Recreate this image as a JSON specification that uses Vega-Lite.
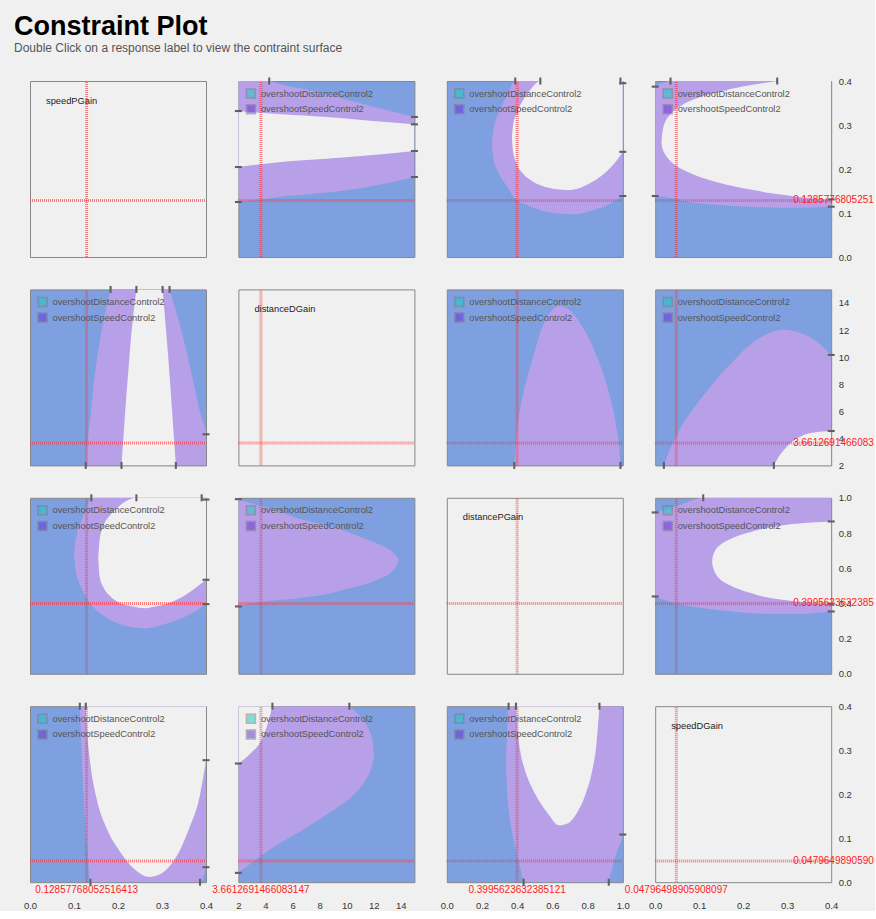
{
"$schema":"https://vega.github.io/schema/vega-lite/v6.json",
"background":"#f0f0f0",
"padding":{"left":14,"top":12,"right":0,"bottom":0},
"title":{"text":"Constraint Plot","subtitle":"Double Click on a response label to view the contraint surface","anchor":"start","frame":"group","dx":-16,"offset":21,"fontSize":27,"fontWeight":"bold","font":"Liberation Sans","color":"#000000","subtitleFont":"Liberation Sans","subtitleFontSize":12,"subtitleColor":"#555555","subtitlePadding":2},
"columns":4,
"spacing":{"row":32.4,"column":32.4},
"bounds":"flush",
"resolve":{"scale":{"color":"independent"},"legend":{"color":"independent"}},
"config":{
 "font":"Liberation Sans",
 "view":{"stroke":"#888888","strokeWidth":1},
 "axis":{"domain":false,"ticks":false,"grid":false,"labelFontSize":9.5,"labelColor":"#333333","labelFlush":false,"labelOverlap":false,"labelFont":"Liberation Sans"},
 "axisX":{"labelPadding":18},
 "axisY":{"labelPadding":7},
 "legend":{"padding":0,"offset":6.5,"rowPadding":0.7,"symbolType":"square","symbolSize":81,"labelFontSize":9.3,"labelColor":"#555555","labelOffset":4.5,"labelFont":"Liberation Sans"}
},
"concat":[
{"width":176,"height":176,
 "encoding":{"x":{"field":"x","type":"quantitative","scale":{"domain":[0,0.4],"nice":false,"zero":false},"axis":null},"y":{"field":"y","type":"quantitative","scale":{"domain":[0,0.4],"nice":false,"zero":false},"axis":null}},
 "layer":[
  {"data":{"values":[{"x":0.12857768052516413,"x2":0.12857768052516413,"y":0,"y2":0.4},{"x":0,"x2":0.4,"y":0.12857768052516413,"y2":0.12857768052516413}]},"mark":{"type":"rule","color":"#ff3030","opacity":0.6,"strokeWidth":3,"strokeDash":[1,1]},"encoding":{"x2":{"field":"x2"},"y2":{"field":"y2"}}},
  {"data":{"values":[{"x":0,"y":0.4,"t":"speedPGain"}]},"mark":{"type":"text","align":"left","baseline":"middle","dx":16,"dy":19.5,"fontSize":9.3,"color":"#222222"},"encoding":{"text":{"field":"t","type":"nominal"}}}
 ]},
{"width":176,"height":176,"view":{"fill":"#7fa0e0"},
 "encoding":{"x":{"field":"x","type":"quantitative","scale":{"domain":[2,15],"nice":false,"zero":false},"axis":null},"y":{"field":"y","type":"quantitative","scale":{"domain":[0,0.4],"nice":false,"zero":false},"axis":null}},
 "layer":[
  {"data":{"values":[{"x":2,"y":0.125,"y2":0.4},{"x":4.277,"y":0.1338,"y2":0.4},{"x":5.134,"y":0.1371,"y2":0.3918},{"x":7.58,"y":0.1438,"y2":0.3773},{"x":11.25,"y":0.1576,"y2":0.347},{"x":15,"y":0.1818,"y2":0.3182}]},"mark":{"type":"area","orient":"vertical","color":"#b8a0e8","opacity":1,"interpolate":"monotone","clip":true},"encoding":{"y2":{"field":"y2"}}},
  {"data":{"values":[{"x":2,"y":0.2045,"y2":0.3318},{"x":5.134,"y":0.2159,"y2":0.3245},{"x":8.49,"y":0.2235,"y2":0.3182},{"x":11.74,"y":0.2311,"y2":0.3098},{"x":15,"y":0.2409,"y2":0.3015}]},"mark":{"type":"area","orient":"vertical","color":"#f0f0f0","opacity":1,"interpolate":"monotone","clip":true},"encoding":{"y2":{"field":"y2"}}},
  {"data":{"values":[{"x":3.6612691466083147,"x2":3.6612691466083147,"y":0,"y2":0.4},{"x":2,"x2":15,"y":0.12857768052516413,"y2":0.12857768052516413}]},"mark":{"type":"rule","color":"#ff3030","opacity":0.6,"strokeWidth":3,"strokeDash":[1,1]},"encoding":{"x2":{"field":"x2"},"y2":{"field":"y2"}}},
  {"data":{"values":[{"x":2,"y":0.3318,"o":"h"},{"x":2,"y":0.2045,"o":"h"},{"x":2,"y":0.125,"o":"h"},{"x":4.277,"y":0.4,"o":"v"},{"x":15,"y":0.3182,"o":"h"},{"x":15,"y":0.3015,"o":"h"},{"x":15,"y":0.2409,"o":"h"},{"x":15,"y":0.1818,"o":"h"}]},"mark":{"type":"point","filled":true,"color":"#606060","opacity":1,"size":49},"encoding":{"shape":{"field":"o","type":"nominal","scale":{"domain":["h","v"],"range":["M-1,-0.3H1V0.3H-1Z","M-0.3,-1H0.3V1H-0.3Z"]},"legend":null}}},
  {"data":{"values":[{"x":-1,"y":-1,"c":"overshootDistanceControl2"},{"x":-1,"y":-1,"c":"overshootSpeedControl2"}]},"mark":{"type":"point","shape":"square","filled":true,"size":81,"opacity":0.5,"stroke":"#777777","strokeWidth":1,"clip":true},"encoding":{"color":{"field":"c","type":"nominal","scale":{"domain":["overshootDistanceControl2","overshootSpeedControl2"],"range":["#10d0c0","#6428dc"]},"legend":{"orient":"top-left","title":null}}}}
 ]},
{"width":176,"height":176,"view":{"fill":"#7fa0e0"},
 "encoding":{"x":{"field":"x","type":"quantitative","scale":{"domain":[0,1],"nice":false,"zero":false},"axis":null},"y":{"field":"y","type":"quantitative","scale":{"domain":[0,0.4],"nice":false,"zero":false},"axis":null}},
 "layer":[
  {"data":{"values":[{"x":0.2562,"y":0.2598,"y2":0.2598},{"x":0.2657,"y":0.222,"y2":0.2902},{"x":0.2941,"y":0.1917,"y2":0.328},{"x":0.3416,"y":0.1614,"y2":0.3659},{"x":0.389,"y":0.1326,"y2":0.4},{"x":0.4554,"y":0.1182,"y2":0.4},{"x":0.5313,"y":0.1068,"y2":0.4},{"x":0.6262,"y":0.0992,"y2":0.4},{"x":0.721,"y":0.097,"y2":0.4},{"x":0.8159,"y":0.1045,"y2":0.4},{"x":0.9108,"y":0.1174,"y2":0.4},{"x":1,"y":0.1386,"y2":0.4}]},"mark":{"type":"area","orient":"vertical","color":"#b8a0e8","opacity":1,"interpolate":"monotone","clip":true},"encoding":{"y2":{"field":"y2"}}},
  {"data":{"values":[{"x":0.37,"y":0.2712,"y2":0.2712},{"x":0.3757,"y":0.2409,"y2":0.2977},{"x":0.3985,"y":0.2106,"y2":0.328},{"x":0.4364,"y":0.1879,"y2":0.3583},{"x":0.4839,"y":0.1727,"y2":0.3848},{"x":0.5313,"y":0.1629,"y2":0.4},{"x":0.6262,"y":0.1538,"y2":0.4},{"x":0.6831,"y":0.1523,"y2":0.4},{"x":0.759,"y":0.1576,"y2":0.4},{"x":0.8349,"y":0.1727,"y2":0.4},{"x":0.9108,"y":0.1955,"y2":0.4},{"x":0.9677,"y":0.2205,"y2":0.4},{"x":1,"y":0.239,"y2":0.4}]},"mark":{"type":"area","orient":"vertical","color":"#f0f0f0","opacity":1,"interpolate":"monotone","clip":true},"encoding":{"y2":{"field":"y2"}}},
  {"data":{"values":[{"x":0.3995623632385121,"x2":0.3995623632385121,"y":0,"y2":0.4},{"x":0,"x2":1,"y":0.12857768052516413,"y2":0.12857768052516413}]},"mark":{"type":"rule","color":"#ff3030","opacity":0.6,"strokeWidth":3,"strokeDash":[1,1]},"encoding":{"x2":{"field":"x2"},"y2":{"field":"y2"}}},
  {"data":{"values":[{"x":0.389,"y":0.4,"o":"v"},{"x":0.5313,"y":0.4,"o":"v"},{"x":0.9867,"y":0.4,"o":"v"},{"x":1,"y":0.395,"o":"h"},{"x":1,"y":0.239,"o":"h"},{"x":1,"y":0.1386,"o":"h"}]},"mark":{"type":"point","filled":true,"color":"#606060","opacity":1,"size":49},"encoding":{"shape":{"field":"o","type":"nominal","scale":{"domain":["h","v"],"range":["M-1,-0.3H1V0.3H-1Z","M-0.3,-1H0.3V1H-0.3Z"]},"legend":null}}},
  {"data":{"values":[{"x":-1,"y":-1,"c":"overshootDistanceControl2"},{"x":-1,"y":-1,"c":"overshootSpeedControl2"}]},"mark":{"type":"point","shape":"square","filled":true,"size":81,"opacity":0.5,"stroke":"#777777","strokeWidth":1,"clip":true},"encoding":{"color":{"field":"c","type":"nominal","scale":{"domain":["overshootDistanceControl2","overshootSpeedControl2"],"range":["#10d0c0","#6428dc"]},"legend":{"orient":"top-left","title":null}}}}
 ]},
{"width":176,"height":176,"view":{"fill":"#7fa0e0"},
 "encoding":{"x":{"field":"x","type":"quantitative","scale":{"domain":[0,0.4],"nice":false,"zero":false},"axis":null},"y":{"field":"y","type":"quantitative","scale":{"domain":[0,0.4],"nice":false,"zero":false},"axis":{"orient":"right","values":[0,0.1,0.2,0.3,0.4],"format":".1f","title":null}}},
 "layer":[
  {"data":{"values":[{"x":0,"y":0.1386,"y2":0.3871},{"x":0.0348,"y":0.1341,"y2":0.4},{"x":0.0765,"y":0.125,"y2":0.4},{"x":0.1371,"y":0.1189,"y2":0.4},{"x":0.2129,"y":0.1144,"y2":0.4},{"x":0.3265,"y":0.1121,"y2":0.4},{"x":0.4,"y":0.1144,"y2":0.4}]},"mark":{"type":"area","orient":"vertical","color":"#b8a0e8","opacity":1,"interpolate":"monotone","clip":true},"encoding":{"y2":{"field":"y2"}}},
  {"data":{"values":[{"y":0.1295,"x":0.4,"x2":0.4},{"y":0.1348,"x":0.3417,"x2":0.4},{"y":0.1424,"x":0.2811,"x2":0.4},{"y":0.1538,"x":0.2129,"x2":0.4},{"y":0.1689,"x":0.1447,"x2":0.4},{"y":0.1841,"x":0.0955,"x2":0.4},{"y":0.1992,"x":0.0614,"x2":0.4},{"y":0.2144,"x":0.0386,"x2":0.4},{"y":0.2295,"x":0.025,"x2":0.4},{"y":0.2598,"x":0.0144,"x2":0.4},{"y":0.2902,"x":0.0174,"x2":0.4},{"y":0.3205,"x":0.0311,"x2":0.4},{"y":0.3432,"x":0.0576,"x2":0.4},{"y":0.3583,"x":0.0879,"x2":0.4},{"y":0.3735,"x":0.1371,"x2":0.4},{"y":0.3886,"x":0.2053,"x2":0.4},{"y":0.4,"x":0.2773,"x2":0.4}]},"mark":{"type":"area","orient":"horizontal","color":"#f0f0f0","opacity":1,"interpolate":"monotone","clip":true},"encoding":{"x2":{"field":"x2"}}},
  {"data":{"values":[{"x":0.04796498905908097,"x2":0.04796498905908097,"y":0,"y2":0.4},{"x":0,"x2":0.4,"y":0.12857768052516413,"y2":0.12857768052516413}]},"mark":{"type":"rule","color":"#ff3030","opacity":0.6,"strokeWidth":3,"strokeDash":[1,1]},"encoding":{"x2":{"field":"x2"},"y2":{"field":"y2"}}},
  {"data":{"values":[{"x":0.0348,"y":0.4,"o":"v"},{"x":0.2773,"y":0.4,"o":"v"},{"x":0,"y":0.3871,"o":"h"},{"x":0,"y":0.1386,"o":"h"},{"x":0.4,"y":0.131,"o":"h"},{"x":0.4,"y":0.1144,"o":"h"}]},"mark":{"type":"point","filled":true,"color":"#606060","opacity":1,"size":49},"encoding":{"shape":{"field":"o","type":"nominal","scale":{"domain":["h","v"],"range":["M-1,-0.3H1V0.3H-1Z","M-0.3,-1H0.3V1H-0.3Z"]},"legend":null}}},
  {"data":{"values":[{"x":0.4,"y":0.12857768052516413,"t":"0.12857768052516413"}]},"mark":{"type":"text","align":"left","baseline":"middle","dx":-38,"fontSize":10,"color":"#ff2020","limit":84,"ellipsis":"\u200b"},"encoding":{"text":{"field":"t","type":"nominal"}}},
  {"data":{"values":[{"x":-1,"y":-1,"c":"overshootDistanceControl2"},{"x":-1,"y":-1,"c":"overshootSpeedControl2"}]},"mark":{"type":"point","shape":"square","filled":true,"size":81,"opacity":0.5,"stroke":"#777777","strokeWidth":1,"clip":true},"encoding":{"color":{"field":"c","type":"nominal","scale":{"domain":["overshootDistanceControl2","overshootSpeedControl2"],"range":["#10d0c0","#6428dc"]},"legend":{"orient":"top-left","title":null}}}}
 ]},
{"width":176,"height":176,"view":{"fill":"#7fa0e0"},
 "encoding":{"x":{"field":"x","type":"quantitative","scale":{"domain":[0,0.4],"nice":false,"zero":false},"axis":null},"y":{"field":"y","type":"quantitative","scale":{"domain":[2,15],"nice":false,"zero":false},"axis":null}},
 "layer":[
  {"data":{"values":[{"y":2,"x":0.1266,"x2":0.4},{"y":4.297,"x":0.1326,"x2":0.4},{"y":5.714,"x":0.1379,"x2":0.388},{"y":8.158,"x":0.1454,"x2":0.3714},{"y":11.823,"x":0.162,"x2":0.345},{"y":15,"x":0.1831,"x2":0.3171}]},"mark":{"type":"area","orient":"horizontal","color":"#b8a0e8","opacity":1,"interpolate":"monotone","clip":true},"encoding":{"x2":{"field":"x2"}}},
  {"data":{"values":[{"y":2,"x":0.2079,"x2":0.3315},{"y":4.492,"x":0.2132,"x2":0.3262},{"y":6.936,"x":0.2185,"x2":0.3209},{"y":9.38,"x":0.2245,"x2":0.3156},{"y":11.823,"x":0.2305,"x2":0.3096},{"y":15,"x":0.2418,"x2":0.3013}]},"mark":{"type":"area","orient":"horizontal","color":"#f0f0f0","opacity":1,"interpolate":"monotone","clip":true},"encoding":{"x2":{"field":"x2"}}},
  {"data":{"values":[{"x":0.12857768052516413,"x2":0.12857768052516413,"y":2,"y2":15},{"x":0,"x2":0.4,"y":3.6612691466083147,"y2":3.6612691466083147}]},"mark":{"type":"rule","color":"#ff3030","opacity":0.6,"strokeWidth":3,"strokeDash":[1,1]},"encoding":{"x2":{"field":"x2"},"y2":{"field":"y2"}}},
  {"data":{"values":[{"x":0.1831,"y":15,"o":"v"},{"x":0.2418,"y":15,"o":"v"},{"x":0.3013,"y":15,"o":"v"},{"x":0.3171,"y":15,"o":"v"},{"x":0.1266,"y":2,"o":"v"},{"x":0.2079,"y":2,"o":"v"},{"x":0.3315,"y":2,"o":"v"},{"x":0.4,"y":4.297,"o":"h"}]},"mark":{"type":"point","filled":true,"color":"#606060","opacity":1,"size":49},"encoding":{"shape":{"field":"o","type":"nominal","scale":{"domain":["h","v"],"range":["M-1,-0.3H1V0.3H-1Z","M-0.3,-1H0.3V1H-0.3Z"]},"legend":null}}},
  {"data":{"values":[{"x":-1,"y":-1,"c":"overshootDistanceControl2"},{"x":-1,"y":-1,"c":"overshootSpeedControl2"}]},"mark":{"type":"point","shape":"square","filled":true,"size":81,"opacity":0.5,"stroke":"#777777","strokeWidth":1,"clip":true},"encoding":{"color":{"field":"c","type":"nominal","scale":{"domain":["overshootDistanceControl2","overshootSpeedControl2"],"range":["#10d0c0","#6428dc"]},"legend":{"orient":"top-left","title":null}}}}
 ]},
{"width":176,"height":176,
 "encoding":{"x":{"field":"x","type":"quantitative","scale":{"domain":[2,15],"nice":false,"zero":false},"axis":null},"y":{"field":"y","type":"quantitative","scale":{"domain":[2,15],"nice":false,"zero":false},"axis":null}},
 "layer":[
  {"data":{"values":[{"x":3.6612691466083147,"x2":3.6612691466083147,"y":2,"y2":15},{"x":2,"x2":15,"y":3.6612691466083147,"y2":3.6612691466083147}]},"mark":{"type":"rule","color":"#ff3030","opacity":0.6,"strokeWidth":3,"strokeDash":[1,1]},"encoding":{"x2":{"field":"x2"},"y2":{"field":"y2"}}},
  {"data":{"values":[{"x":2,"y":15,"t":"distanceDGain"}]},"mark":{"type":"text","align":"left","baseline":"middle","dx":16,"dy":19.5,"fontSize":9.3,"color":"#222222"},"encoding":{"text":{"field":"t","type":"nominal"}}}
 ]},
{"width":176,"height":176,"view":{"fill":"#7fa0e0"},
 "encoding":{"x":{"field":"x","type":"quantitative","scale":{"domain":[0,1],"nice":false,"zero":false},"axis":null},"y":{"field":"y","type":"quantitative","scale":{"domain":[2,15],"nice":false,"zero":false},"axis":null}},
 "layer":[
  {"data":{"values":[{"x":0.3833,"y":2,"y2":2},{"x":0.3947,"y":2,"y2":4.004},{"x":0.4175,"y":2,"y2":6.203},{"x":0.4554,"y":2,"y2":8.402},{"x":0.4934,"y":2,"y2":10.113},{"x":0.5313,"y":2,"y2":11.823},{"x":0.5693,"y":2,"y2":12.923},{"x":0.6072,"y":2,"y2":13.583},{"x":0.6357,"y":2,"y2":13.778},{"x":0.6736,"y":2,"y2":13.656},{"x":0.7211,"y":2,"y2":13.167},{"x":0.778,"y":2,"y2":12.068},{"x":0.8349,"y":2,"y2":10.602},{"x":0.8918,"y":2,"y2":8.647},{"x":0.9298,"y":2,"y2":6.936},{"x":0.9583,"y":2,"y2":5.225},{"x":0.9772,"y":2,"y2":3.515},{"x":0.9867,"y":2,"y2":2}]},"mark":{"type":"area","orient":"vertical","color":"#b8a0e8","opacity":1,"interpolate":"monotone","clip":true},"encoding":{"y2":{"field":"y2"}}},
  {"data":{"values":[{"x":0.3995623632385121,"x2":0.3995623632385121,"y":2,"y2":15},{"x":0,"x2":1,"y":3.6612691466083147,"y2":3.6612691466083147}]},"mark":{"type":"rule","color":"#ff3030","opacity":0.6,"strokeWidth":3,"strokeDash":[1,1]},"encoding":{"x2":{"field":"x2"},"y2":{"field":"y2"}}},
  {"data":{"values":[{"x":0.3833,"y":2,"o":"v"},{"x":0.9867,"y":2,"o":"v"}]},"mark":{"type":"point","filled":true,"color":"#606060","opacity":1,"size":49},"encoding":{"shape":{"field":"o","type":"nominal","scale":{"domain":["h","v"],"range":["M-1,-0.3H1V0.3H-1Z","M-0.3,-1H0.3V1H-0.3Z"]},"legend":null}}},
  {"data":{"values":[{"x":-1,"y":-1,"c":"overshootDistanceControl2"},{"x":-1,"y":-1,"c":"overshootSpeedControl2"}]},"mark":{"type":"point","shape":"square","filled":true,"size":81,"opacity":0.5,"stroke":"#777777","strokeWidth":1,"clip":true},"encoding":{"color":{"field":"c","type":"nominal","scale":{"domain":["overshootDistanceControl2","overshootSpeedControl2"],"range":["#10d0c0","#6428dc"]},"legend":{"orient":"top-left","title":null}}}}
 ]},
{"width":176,"height":176,"view":{"fill":"#7fa0e0"},
 "encoding":{"x":{"field":"x","type":"quantitative","scale":{"domain":[0,0.4],"nice":false,"zero":false},"axis":null},"y":{"field":"y","type":"quantitative","scale":{"domain":[2,15],"nice":false,"zero":false},"axis":{"orient":"right","values":[2,4,6,8,10,12,14],"format":"d","title":null}}},
 "layer":[
  {"data":{"values":[{"x":0.0197,"y":2,"y2":2},{"x":0.0311,"y":2,"y2":3.026},{"x":0.0462,"y":2,"y2":4.004},{"x":0.0614,"y":2,"y2":4.981},{"x":0.0841,"y":2,"y2":6.081},{"x":0.1068,"y":2,"y2":7.058},{"x":0.1371,"y":2,"y2":8.28},{"x":0.175,"y":2,"y2":9.624},{"x":0.2129,"y":2,"y2":10.846},{"x":0.2508,"y":2,"y2":11.628},{"x":0.2886,"y":2,"y2":12.019},{"x":0.3265,"y":2,"y2":11.823},{"x":0.3644,"y":2,"y2":11.212},{"x":0.4,"y":2,"y2":10.161}]},"mark":{"type":"area","orient":"vertical","color":"#b8a0e8","opacity":1,"interpolate":"monotone","clip":true},"encoding":{"y2":{"field":"y2"}}},
  {"data":{"values":[{"x":0.2697,"y":2,"y2":2},{"x":0.2811,"y":2,"y2":2.66},{"x":0.2962,"y":2,"y2":3.271},{"x":0.3114,"y":2,"y2":3.759},{"x":0.3341,"y":2,"y2":4.199},{"x":0.3644,"y":2,"y2":4.444},{"x":0.4,"y":2,"y2":4.541}]},"mark":{"type":"area","orient":"vertical","color":"#f0f0f0","opacity":1,"interpolate":"monotone","clip":true},"encoding":{"y2":{"field":"y2"}}},
  {"data":{"values":[{"x":0.04796498905908097,"x2":0.04796498905908097,"y":2,"y2":15},{"x":0,"x2":0.4,"y":3.6612691466083147,"y2":3.6612691466083147}]},"mark":{"type":"rule","color":"#ff3030","opacity":0.6,"strokeWidth":3,"strokeDash":[1,1]},"encoding":{"x2":{"field":"x2"},"y2":{"field":"y2"}}},
  {"data":{"values":[{"x":0.0197,"y":2,"o":"v"},{"x":0.2697,"y":2,"o":"v"},{"x":0.4,"y":10.161,"o":"h"},{"x":0.4,"y":4.541,"o":"h"}]},"mark":{"type":"point","filled":true,"color":"#606060","opacity":1,"size":49},"encoding":{"shape":{"field":"o","type":"nominal","scale":{"domain":["h","v"],"range":["M-1,-0.3H1V0.3H-1Z","M-0.3,-1H0.3V1H-0.3Z"]},"legend":null}}},
  {"data":{"values":[{"x":0.4,"y":3.6612691466083147,"t":"3.6612691466083147"}]},"mark":{"type":"text","align":"left","baseline":"middle","dx":-38,"fontSize":10,"color":"#ff2020","limit":84,"ellipsis":"\u200b"},"encoding":{"text":{"field":"t","type":"nominal"}}},
  {"data":{"values":[{"x":-1,"y":-1,"c":"overshootDistanceControl2"},{"x":-1,"y":-1,"c":"overshootSpeedControl2"}]},"mark":{"type":"point","shape":"square","filled":true,"size":81,"opacity":0.5,"stroke":"#777777","strokeWidth":1,"clip":true},"encoding":{"color":{"field":"c","type":"nominal","scale":{"domain":["overshootDistanceControl2","overshootSpeedControl2"],"range":["#10d0c0","#6428dc"]},"legend":{"orient":"top-left","title":null}}}}
 ]},
{"width":176,"height":176,"view":{"fill":"#7fa0e0"},
 "encoding":{"x":{"field":"x","type":"quantitative","scale":{"domain":[0,0.4],"nice":false,"zero":false},"axis":null},"y":{"field":"y","type":"quantitative","scale":{"domain":[0,1],"nice":false,"zero":false},"axis":null}},
 "layer":[
  {"data":{"values":[{"x":0.1002,"y":0.6856,"y2":0.6856},{"x":0.104,"y":0.5909,"y2":0.7614},{"x":0.1153,"y":0.4962,"y2":0.8561},{"x":0.1266,"y":0.4394,"y2":0.9318},{"x":0.1394,"y":0.392,"y2":1},{"x":0.1642,"y":0.3352,"y2":1},{"x":0.1944,"y":0.2917,"y2":1},{"x":0.232,"y":0.2652,"y2":1},{"x":0.2621,"y":0.2576,"y2":1},{"x":0.2998,"y":0.2784,"y2":1},{"x":0.345,"y":0.3163,"y2":1},{"x":0.3751,"y":0.3542,"y2":1},{"x":0.4,"y":0.3958,"y2":1}]},"mark":{"type":"area","orient":"vertical","color":"#b8a0e8","opacity":1,"interpolate":"monotone","clip":true},"encoding":{"y2":{"field":"y2"}}},
  {"data":{"values":[{"x":0.1552,"y":0.6572,"y2":0.6572},{"x":0.1582,"y":0.553,"y2":0.7614},{"x":0.168,"y":0.4867,"y2":0.8466},{"x":0.1831,"y":0.4394,"y2":0.9034},{"x":0.2019,"y":0.4053,"y2":0.9508},{"x":0.2245,"y":0.3864,"y2":0.9886},{"x":0.2418,"y":0.3788,"y2":1},{"x":0.2621,"y":0.3731,"y2":1},{"x":0.2847,"y":0.3826,"y2":1},{"x":0.3149,"y":0.4015,"y2":1},{"x":0.345,"y":0.4356,"y2":1},{"x":0.3751,"y":0.4867,"y2":1},{"x":0.4,"y":0.5341,"y2":1}]},"mark":{"type":"area","orient":"vertical","color":"#f0f0f0","opacity":1,"interpolate":"monotone","clip":true},"encoding":{"y2":{"field":"y2"}}},
  {"data":{"values":[{"x":0.12857768052516413,"x2":0.12857768052516413,"y":0,"y2":1},{"x":0,"x2":0.4,"y":0.3995623632385121,"y2":0.3995623632385121}]},"mark":{"type":"rule","color":"#ff3030","opacity":0.6,"strokeWidth":3,"strokeDash":[1,1]},"encoding":{"x2":{"field":"x2"},"y2":{"field":"y2"}}},
  {"data":{"values":[{"x":0.1394,"y":1,"o":"v"},{"x":0.2418,"y":1,"o":"v"},{"x":0.3902,"y":1,"o":"v"},{"x":0.4,"y":0.99,"o":"h"},{"x":0.4,"y":0.5341,"o":"h"},{"x":0.4,"y":0.3958,"o":"h"}]},"mark":{"type":"point","filled":true,"color":"#606060","opacity":1,"size":49},"encoding":{"shape":{"field":"o","type":"nominal","scale":{"domain":["h","v"],"range":["M-1,-0.3H1V0.3H-1Z","M-0.3,-1H0.3V1H-0.3Z"]},"legend":null}}},
  {"data":{"values":[{"x":-1,"y":-1,"c":"overshootDistanceControl2"},{"x":-1,"y":-1,"c":"overshootSpeedControl2"}]},"mark":{"type":"point","shape":"square","filled":true,"size":81,"opacity":0.5,"stroke":"#777777","strokeWidth":1,"clip":true},"encoding":{"color":{"field":"c","type":"nominal","scale":{"domain":["overshootDistanceControl2","overshootSpeedControl2"],"range":["#10d0c0","#6428dc"]},"legend":{"orient":"top-left","title":null}}}}
 ]},
{"width":176,"height":176,"view":{"fill":"#7fa0e0"},
 "encoding":{"x":{"field":"x","type":"quantitative","scale":{"domain":[2,15],"nice":false,"zero":false},"axis":null},"y":{"field":"y","type":"quantitative","scale":{"domain":[0,1],"nice":false,"zero":false},"axis":null}},
 "layer":[
  {"data":{"values":[{"y":0.3826,"x":2,"x2":2},{"y":0.4015,"x":2,"x2":2.93},{"y":0.4205,"x":2,"x2":5.134},{"y":0.4299,"x":2,"x2":6.358},{"y":0.4583,"x":2,"x2":8.806},{"y":0.4773,"x":2,"x2":9.785},{"y":0.5057,"x":2,"x2":11.254},{"y":0.5341,"x":2,"x2":12.234},{"y":0.572,"x":2,"x2":13.213},{"y":0.6098,"x":2,"x2":13.629},{"y":0.6439,"x":2,"x2":13.825},{"y":0.6667,"x":2,"x2":13.702},{"y":0.714,"x":2,"x2":12.968},{"y":0.7708,"x":2,"x2":11.254},{"y":0.8371,"x":2,"x2":8.806},{"y":0.8845,"x":2,"x2":6.358},{"y":0.9318,"x":2,"x2":4.644},{"y":0.9697,"x":2,"x2":2.93},{"y":0.9924,"x":2,"x2":2}]},"mark":{"type":"area","orient":"horizontal","color":"#b8a0e8","opacity":1,"interpolate":"monotone","clip":true},"encoding":{"x2":{"field":"x2"}}},
  {"data":{"values":[{"x":3.6612691466083147,"x2":3.6612691466083147,"y":0,"y2":1},{"x":2,"x2":15,"y":0.3995623632385121,"y2":0.3995623632385121}]},"mark":{"type":"rule","color":"#ff3030","opacity":0.6,"strokeWidth":3,"strokeDash":[1,1]},"encoding":{"x2":{"field":"x2"},"y2":{"field":"y2"}}},
  {"data":{"values":[{"x":2,"y":0.9924,"o":"h"},{"x":2,"y":0.3826,"o":"h"}]},"mark":{"type":"point","filled":true,"color":"#606060","opacity":1,"size":49},"encoding":{"shape":{"field":"o","type":"nominal","scale":{"domain":["h","v"],"range":["M-1,-0.3H1V0.3H-1Z","M-0.3,-1H0.3V1H-0.3Z"]},"legend":null}}},
  {"data":{"values":[{"x":-1,"y":-1,"c":"overshootDistanceControl2"},{"x":-1,"y":-1,"c":"overshootSpeedControl2"}]},"mark":{"type":"point","shape":"square","filled":true,"size":81,"opacity":0.5,"stroke":"#777777","strokeWidth":1,"clip":true},"encoding":{"color":{"field":"c","type":"nominal","scale":{"domain":["overshootDistanceControl2","overshootSpeedControl2"],"range":["#10d0c0","#6428dc"]},"legend":{"orient":"top-left","title":null}}}}
 ]},
{"width":176,"height":176,
 "encoding":{"x":{"field":"x","type":"quantitative","scale":{"domain":[0,1],"nice":false,"zero":false},"axis":null},"y":{"field":"y","type":"quantitative","scale":{"domain":[0,1],"nice":false,"zero":false},"axis":null}},
 "layer":[
  {"data":{"values":[{"x":0.3995623632385121,"x2":0.3995623632385121,"y":0,"y2":1},{"x":0,"x2":1,"y":0.3995623632385121,"y2":0.3995623632385121}]},"mark":{"type":"rule","color":"#ff3030","opacity":0.6,"strokeWidth":3,"strokeDash":[1,1]},"encoding":{"x2":{"field":"x2"},"y2":{"field":"y2"}}},
  {"data":{"values":[{"x":0,"y":1,"t":"distancePGain"}]},"mark":{"type":"text","align":"left","baseline":"middle","dx":16,"dy":19.5,"fontSize":9.3,"color":"#222222"},"encoding":{"text":{"field":"t","type":"nominal"}}}
 ]},
{"width":176,"height":176,"view":{"fill":"#7fa0e0"},
 "encoding":{"x":{"field":"x","type":"quantitative","scale":{"domain":[0,0.4],"nice":false,"zero":false},"axis":null},"y":{"field":"y","type":"quantitative","scale":{"domain":[0,1],"nice":false,"zero":false},"axis":{"orient":"right","values":[0,0.2,0.4,0.6,0.8,1],"format":".1f","title":null}}},
 "layer":[
  {"data":{"values":[{"x":0,"y":0.4394,"y2":0.9167},{"x":0.0311,"y":0.411,"y2":0.9413},{"x":0.0614,"y":0.392,"y2":0.964},{"x":0.1091,"y":0.3731,"y2":1},{"x":0.175,"y":0.3542,"y2":1},{"x":0.2508,"y":0.3409,"y2":1},{"x":0.3265,"y":0.3409,"y2":1},{"x":0.4,"y":0.3542,"y2":1}]},"mark":{"type":"area","orient":"vertical","color":"#b8a0e8","opacity":1,"interpolate":"monotone","clip":true},"encoding":{"y2":{"field":"y2"}}},
  {"data":{"values":[{"y":0.3977,"x":0.4,"x2":0.4},{"y":0.4053,"x":0.3492,"x2":0.4},{"y":0.4205,"x":0.2886,"x2":0.4},{"y":0.4621,"x":0.2129,"x2":0.4},{"y":0.5152,"x":0.1598,"x2":0.4},{"y":0.5814,"x":0.1348,"x2":0.4},{"y":0.6364,"x":0.1295,"x2":0.4},{"y":0.7045,"x":0.1371,"x2":0.4},{"y":0.7519,"x":0.1598,"x2":0.4},{"y":0.803,"x":0.2129,"x2":0.4},{"y":0.8371,"x":0.2735,"x2":0.4},{"y":0.8561,"x":0.3341,"x2":0.4},{"y":0.8655,"x":0.4,"x2":0.4}]},"mark":{"type":"area","orient":"horizontal","color":"#f0f0f0","opacity":1,"interpolate":"monotone","clip":true},"encoding":{"x2":{"field":"x2"}}},
  {"data":{"values":[{"x":0.04796498905908097,"x2":0.04796498905908097,"y":0,"y2":1},{"x":0,"x2":0.4,"y":0.3995623632385121,"y2":0.3995623632385121}]},"mark":{"type":"rule","color":"#ff3030","opacity":0.6,"strokeWidth":3,"strokeDash":[1,1]},"encoding":{"x2":{"field":"x2"},"y2":{"field":"y2"}}},
  {"data":{"values":[{"x":0.1091,"y":1,"o":"v"},{"x":0,"y":0.9167,"o":"h"},{"x":0,"y":0.4394,"o":"h"},{"x":0.4,"y":0.8655,"o":"h"},{"x":0.4,"y":0.3977,"o":"h"},{"x":0.4,"y":0.3542,"o":"h"}]},"mark":{"type":"point","filled":true,"color":"#606060","opacity":1,"size":49},"encoding":{"shape":{"field":"o","type":"nominal","scale":{"domain":["h","v"],"range":["M-1,-0.3H1V0.3H-1Z","M-0.3,-1H0.3V1H-0.3Z"]},"legend":null}}},
  {"data":{"values":[{"x":0.4,"y":0.3995623632385121,"t":"0.3995623632385121"}]},"mark":{"type":"text","align":"left","baseline":"middle","dx":-38,"fontSize":10,"color":"#ff2020","limit":84,"ellipsis":"\u200b"},"encoding":{"text":{"field":"t","type":"nominal"}}},
  {"data":{"values":[{"x":-1,"y":-1,"c":"overshootDistanceControl2"},{"x":-1,"y":-1,"c":"overshootSpeedControl2"}]},"mark":{"type":"point","shape":"square","filled":true,"size":81,"opacity":0.5,"stroke":"#777777","strokeWidth":1,"clip":true},"encoding":{"color":{"field":"c","type":"nominal","scale":{"domain":["overshootDistanceControl2","overshootSpeedControl2"],"range":["#10d0c0","#6428dc"]},"legend":{"orient":"top-left","title":null}}}}
 ]},
{"width":176,"height":176,"view":{"fill":"#7fa0e0"},
 "encoding":{"x":{"field":"x","type":"quantitative","scale":{"domain":[0,0.4],"nice":false,"zero":false},"axis":{"orient":"bottom","values":[0,0.1,0.2,0.3,0.4],"format":".1f","title":null}},"y":{"field":"y","type":"quantitative","scale":{"domain":[0,0.4],"nice":false,"zero":false},"axis":null}},
 "layer":[
  {"data":{"values":[{"x":0.1132,"y":0.4,"y2":0.4},{"x":0.117,"y":0.3053,"y2":0.4},{"x":0.1223,"y":0.1917,"y2":0.4},{"x":0.1298,"y":0.078,"y2":0.4},{"x":0.1374,"y":0,"y2":0.4},{"x":0.3864,"y":0,"y2":0.4},{"x":0.4,"y":0.0341,"y2":0.4}]},"mark":{"type":"area","orient":"vertical","color":"#b8a0e8","opacity":1,"interpolate":"monotone","clip":true},"encoding":{"y2":{"field":"y2"}}},
  {"data":{"values":[{"x":0.1268,"y":0.4,"y2":0.4},{"x":0.1298,"y":0.3432,"y2":0.4},{"x":0.1374,"y":0.2674,"y2":0.4},{"x":0.1509,"y":0.1917,"y2":0.4},{"x":0.1736,"y":0.1235,"y2":0.4},{"x":0.2038,"y":0.0705,"y2":0.4},{"x":0.234,"y":0.0326,"y2":0.4},{"x":0.2566,"y":0.0159,"y2":0.4},{"x":0.2717,"y":0.0121,"y2":0.4},{"x":0.2943,"y":0.0174,"y2":0.4},{"x":0.317,"y":0.0364,"y2":0.4},{"x":0.3396,"y":0.0705,"y2":0.4},{"x":0.3623,"y":0.1235,"y2":0.4},{"x":0.3849,"y":0.1917,"y2":0.4},{"x":0.4,"y":0.2773,"y2":0.4}]},"mark":{"type":"area","orient":"vertical","color":"#f0f0f0","opacity":1,"interpolate":"monotone","clip":true},"encoding":{"y2":{"field":"y2"}}},
  {"data":{"values":[{"x":0.12857768052516413,"x2":0.12857768052516413,"y":0,"y2":0.4},{"x":0,"x2":0.4,"y":0.04796498905908097,"y2":0.04796498905908097}]},"mark":{"type":"rule","color":"#ff3030","opacity":0.6,"strokeWidth":3,"strokeDash":[1,1]},"encoding":{"x2":{"field":"x2"},"y2":{"field":"y2"}}},
  {"data":{"values":[{"x":0.1132,"y":0.4,"o":"v"},{"x":0.1268,"y":0.4,"o":"v"},{"x":0.1374,"y":0,"o":"v"},{"x":0.3864,"y":0,"o":"v"},{"x":0.4,"y":0.2773,"o":"h"},{"x":0.4,"y":0.0341,"o":"h"}]},"mark":{"type":"point","filled":true,"color":"#606060","opacity":1,"size":49},"encoding":{"shape":{"field":"o","type":"nominal","scale":{"domain":["h","v"],"range":["M-1,-0.3H1V0.3H-1Z","M-0.3,-1H0.3V1H-0.3Z"]},"legend":null}}},
  {"data":{"values":[{"x":0.12857768052516413,"y":0,"t":"0.12857768052516413"}]},"mark":{"type":"text","align":"center","baseline":"middle","dy":8,"fontSize":10,"color":"#ff2020"},"encoding":{"text":{"field":"t","type":"nominal"}}},
  {"data":{"values":[{"x":-1,"y":-1,"c":"overshootDistanceControl2"},{"x":-1,"y":-1,"c":"overshootSpeedControl2"}]},"mark":{"type":"point","shape":"square","filled":true,"size":81,"opacity":0.5,"stroke":"#777777","strokeWidth":1,"clip":true},"encoding":{"color":{"field":"c","type":"nominal","scale":{"domain":["overshootDistanceControl2","overshootSpeedControl2"],"range":["#10d0c0","#6428dc"]},"legend":{"orient":"top-left","title":null}}}}
 ]},
{"width":176,"height":176,"view":{"fill":"#7fa0e0"},
 "encoding":{"x":{"field":"x","type":"quantitative","scale":{"domain":[2,15],"nice":false,"zero":false},"axis":{"orient":"bottom","values":[2,4,6,8,10,12,14],"format":"d","title":null}},"y":{"field":"y","type":"quantitative","scale":{"domain":[0,0.4],"nice":false,"zero":false},"axis":null}},
 "layer":[
  {"data":{"values":[{"y":0.0212,"x":2,"x2":2},{"y":0.0402,"x":2,"x2":2.805},{"y":0.078,"x":2,"x2":4.512},{"y":0.1159,"x":2,"x2":6.585},{"y":0.1538,"x":2,"x2":8.537},{"y":0.1917,"x":2,"x2":10.293},{"y":0.2295,"x":2,"x2":11.341},{"y":0.2674,"x":2,"x2":11.902},{"y":0.2902,"x":2,"x2":12.0},{"y":0.3129,"x":2,"x2":11.951},{"y":0.3432,"x":2,"x2":11.707},{"y":0.3735,"x":2,"x2":11.097},{"y":0.4,"x":2,"x2":10.195}]},"mark":{"type":"area","orient":"horizontal","color":"#b8a0e8","opacity":1,"interpolate":"monotone","clip":true},"encoding":{"x2":{"field":"x2"}}},
  {"data":{"values":[{"x":2,"y":0.2697,"y2":0.4},{"x":2.927,"y":0.2939,"y2":0.4},{"x":3.659,"y":0.3205,"y2":0.4},{"x":4.146,"y":0.3583,"y2":0.4},{"x":4.512,"y":0.4,"y2":0.4}]},"mark":{"type":"area","orient":"vertical","color":"#f0f0f0","opacity":1,"interpolate":"monotone","clip":true},"encoding":{"y2":{"field":"y2"}}},
  {"data":{"values":[{"x":3.6612691466083147,"x2":3.6612691466083147,"y":0,"y2":0.4},{"x":2,"x2":15,"y":0.04796498905908097,"y2":0.04796498905908097}]},"mark":{"type":"rule","color":"#ff3030","opacity":0.6,"strokeWidth":3,"strokeDash":[1,1]},"encoding":{"x2":{"field":"x2"},"y2":{"field":"y2"}}},
  {"data":{"values":[{"x":4.512,"y":0.4,"o":"v"},{"x":10.195,"y":0.4,"o":"v"},{"x":2,"y":0.2697,"o":"h"},{"x":2,"y":0.0212,"o":"h"}]},"mark":{"type":"point","filled":true,"color":"#606060","opacity":1,"size":49},"encoding":{"shape":{"field":"o","type":"nominal","scale":{"domain":["h","v"],"range":["M-1,-0.3H1V0.3H-1Z","M-0.3,-1H0.3V1H-0.3Z"]},"legend":null}}},
  {"data":{"values":[{"x":3.6612691466083147,"y":0,"t":"3.6612691466083147"}]},"mark":{"type":"text","align":"center","baseline":"middle","dy":8,"fontSize":10,"color":"#ff2020"},"encoding":{"text":{"field":"t","type":"nominal"}}},
  {"data":{"values":[{"x":-1,"y":-1,"c":"overshootDistanceControl2"},{"x":-1,"y":-1,"c":"overshootSpeedControl2"}]},"mark":{"type":"point","shape":"square","filled":true,"size":81,"opacity":0.5,"stroke":"#777777","strokeWidth":1,"clip":true},"encoding":{"color":{"field":"c","type":"nominal","scale":{"domain":["overshootDistanceControl2","overshootSpeedControl2"],"range":["#10d0c0","#6428dc"]},"legend":{"orient":"top-left","title":null}}}}
 ]},
{"width":176,"height":176,"view":{"fill":"#7fa0e0"},
 "encoding":{"x":{"field":"x","type":"quantitative","scale":{"domain":[0,1],"nice":false,"zero":false},"axis":{"orient":"bottom","values":[0,0.2,0.4,0.6,0.8,1],"format":".1f","title":null}},"y":{"field":"y","type":"quantitative","scale":{"domain":[0,0.4],"nice":false,"zero":false},"axis":null}},
 "layer":[
  {"data":{"values":[{"y":0,"x":0.4364,"x2":0.9203},{"y":0.0402,"x":0.4118,"x2":0.945},{"y":0.0705,"x":0.3928,"x2":0.9677},{"y":0.1083,"x":0.3738,"x2":1},{"y":0.1159,"x":0.37,"x2":1},{"y":0.1917,"x":0.3454,"x2":1},{"y":0.2674,"x":0.3378,"x2":1},{"y":0.4,"x":0.351,"x2":1}]},"mark":{"type":"area","orient":"horizontal","color":"#b8a0e8","opacity":1,"interpolate":"monotone","clip":true},"encoding":{"x2":{"field":"x2"}}},
  {"data":{"values":[{"x":0.3928,"y":0.4,"y2":0.4},{"x":0.4023,"y":0.3432,"y2":0.4},{"x":0.4175,"y":0.2977,"y2":0.4},{"x":0.4459,"y":0.2523,"y2":0.4},{"x":0.4839,"y":0.2144,"y2":0.4},{"x":0.5313,"y":0.1803,"y2":0.4},{"x":0.5787,"y":0.1538,"y2":0.4},{"x":0.6357,"y":0.1295,"y2":0.4},{"x":0.6926,"y":0.1348,"y2":0.4},{"x":0.74,"y":0.1576,"y2":0.4},{"x":0.7875,"y":0.1992,"y2":0.4},{"x":0.8254,"y":0.2523,"y2":0.4},{"x":0.8501,"y":0.3129,"y2":0.4},{"x":0.8672,"y":0.4,"y2":0.4}]},"mark":{"type":"area","orient":"vertical","color":"#f0f0f0","opacity":1,"interpolate":"monotone","clip":true},"encoding":{"y2":{"field":"y2"}}},
  {"data":{"values":[{"x":0.3995623632385121,"x2":0.3995623632385121,"y":0,"y2":0.4},{"x":0,"x2":1,"y":0.04796498905908097,"y2":0.04796498905908097}]},"mark":{"type":"rule","color":"#ff3030","opacity":0.6,"strokeWidth":3,"strokeDash":[1,1]},"encoding":{"x2":{"field":"x2"},"y2":{"field":"y2"}}},
  {"data":{"values":[{"x":0.351,"y":0.4,"o":"v"},{"x":0.3928,"y":0.4,"o":"v"},{"x":0.8672,"y":0.4,"o":"v"},{"x":0.4364,"y":0,"o":"v"},{"x":0.9203,"y":0,"o":"v"},{"x":1,"y":0.1083,"o":"h"}]},"mark":{"type":"point","filled":true,"color":"#606060","opacity":1,"size":49},"encoding":{"shape":{"field":"o","type":"nominal","scale":{"domain":["h","v"],"range":["M-1,-0.3H1V0.3H-1Z","M-0.3,-1H0.3V1H-0.3Z"]},"legend":null}}},
  {"data":{"values":[{"x":0.3995623632385121,"y":0,"t":"0.3995623632385121"}]},"mark":{"type":"text","align":"center","baseline":"middle","dy":8,"fontSize":10,"color":"#ff2020"},"encoding":{"text":{"field":"t","type":"nominal"}}},
  {"data":{"values":[{"x":-1,"y":-1,"c":"overshootDistanceControl2"},{"x":-1,"y":-1,"c":"overshootSpeedControl2"}]},"mark":{"type":"point","shape":"square","filled":true,"size":81,"opacity":0.5,"stroke":"#777777","strokeWidth":1,"clip":true},"encoding":{"color":{"field":"c","type":"nominal","scale":{"domain":["overshootDistanceControl2","overshootSpeedControl2"],"range":["#10d0c0","#6428dc"]},"legend":{"orient":"top-left","title":null}}}}
 ]},
{"width":176,"height":176,
 "encoding":{"x":{"field":"x","type":"quantitative","scale":{"domain":[0,0.4],"nice":false,"zero":false},"axis":{"orient":"bottom","values":[0,0.1,0.2,0.3,0.4],"format":".1f","title":null}},"y":{"field":"y","type":"quantitative","scale":{"domain":[0,0.4],"nice":false,"zero":false},"axis":{"orient":"right","values":[0,0.1,0.2,0.3,0.4],"format":".1f","title":null}}},
 "layer":[
  {"data":{"values":[{"x":0.04796498905908097,"x2":0.04796498905908097,"y":0,"y2":0.4},{"x":0,"x2":0.4,"y":0.04796498905908097,"y2":0.04796498905908097}]},"mark":{"type":"rule","color":"#ff3030","opacity":0.6,"strokeWidth":3,"strokeDash":[1,1]},"encoding":{"x2":{"field":"x2"},"y2":{"field":"y2"}}},
  {"data":{"values":[{"x":0,"y":0.4,"t":"speedDGain"}]},"mark":{"type":"text","align":"left","baseline":"middle","dx":16,"dy":19.5,"fontSize":9.3,"color":"#222222"},"encoding":{"text":{"field":"t","type":"nominal"}}},
  {"data":{"values":[{"x":0.4,"y":0.04796498905908097,"t":"0.04796498905908097"}]},"mark":{"type":"text","align":"left","baseline":"middle","dx":-38,"fontSize":10,"color":"#ff2020","limit":84,"ellipsis":"\u200b"},"encoding":{"text":{"field":"t","type":"nominal"}}},
  {"data":{"values":[{"x":0.04796498905908097,"y":0,"t":"0.04796498905908097"}]},"mark":{"type":"text","align":"center","baseline":"middle","dy":8,"fontSize":10,"color":"#ff2020"},"encoding":{"text":{"field":"t","type":"nominal"}}}
 ]}
]
}
